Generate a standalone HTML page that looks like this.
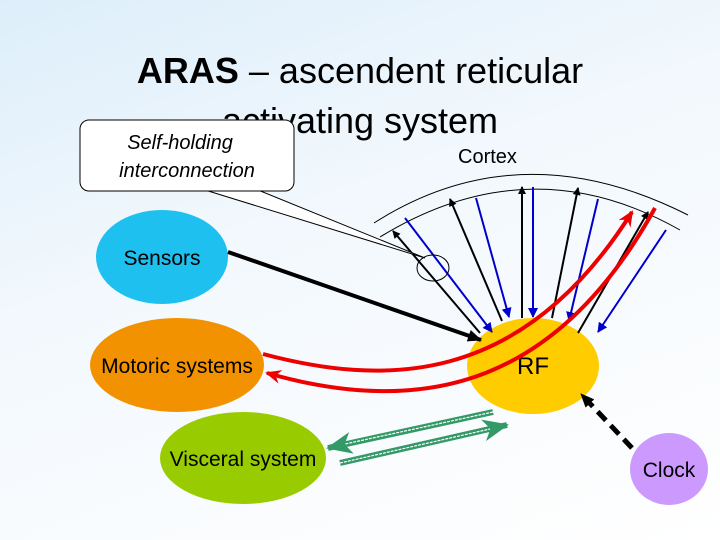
<!DOCTYPE html>
<html><head><meta charset="utf-8"><style>
html,body{margin:0;padding:0;}
body{width:720px;height:540px;overflow:hidden;background:linear-gradient(160deg,#ddeefa 0%,#f2f8fd 40%,#ffffff 100%);}
svg{display:block;font-family:"Liberation Sans",Arial,sans-serif;}
</style></head><body>
<svg width="720" height="540" viewBox="0 0 720 540">
<defs>
<marker id="ab" markerWidth="8" markerHeight="8" refX="7" refY="4" orient="auto" markerUnits="userSpaceOnUse"><path d="M0,0 L8,4 L0,8 z" fill="#000"/></marker>
<marker id="ab2" markerWidth="14" markerHeight="12" refX="13" refY="6" orient="auto" markerUnits="userSpaceOnUse"><path d="M0,0 L14,6 L0,12 z" fill="#000"/></marker>
<marker id="au" markerWidth="10" markerHeight="10" refX="9" refY="5" orient="auto" markerUnits="userSpaceOnUse"><path d="M0,0 L10,5 L0,10 z" fill="#0000cc"/></marker>
<marker id="ar" markerWidth="16" markerHeight="14" refX="14" refY="7" orient="auto" markerUnits="userSpaceOnUse"><path d="M0,0 L16,7 L0,14 L5,7 z" fill="#e00"/></marker>
<marker id="ag" markerWidth="26" markerHeight="22" refX="24" refY="11" orient="auto" markerUnits="userSpaceOnUse"><path d="M0,0 L26,11 L0,22 L7,11 z" fill="#339966"/></marker>
</defs>
<text x="360" y="83" font-size="36" text-anchor="middle" fill="#000"><tspan font-weight="bold">ARAS</tspan> – ascendent reticular</text>
<text x="360" y="133" font-size="36" text-anchor="middle" fill="#000">activating system</text>
<text x="458" y="163" font-size="20" fill="#000">Cortex</text>
<!-- arcs -->
<path d="M374,223 Q520,130 688,215" fill="none" stroke="#000" stroke-width="1"/>
<path d="M380,237 Q530,145 680,230" fill="none" stroke="#000" stroke-width="1"/>
<!-- ellipses -->
<ellipse cx="162" cy="257" rx="66" ry="47" fill="#1ec0f0"/>
<ellipse cx="177" cy="365" rx="87" ry="47" fill="#f39200"/>
<ellipse cx="243" cy="458" rx="83" ry="46" fill="#99cc00"/>
<ellipse cx="533" cy="366" rx="66" ry="48" fill="#ffcc00"/>
<ellipse cx="669" cy="469" rx="39" ry="36" fill="#cc99ff"/>
<text x="162" y="265" font-size="21" text-anchor="middle">Sensors</text>
<text x="177" y="373" font-size="21" text-anchor="middle">Motoric systems</text>
<text x="243" y="466" font-size="21" text-anchor="middle">Visceral system</text>
<text x="533" y="374" font-size="24" text-anchor="middle">RF</text>
<text x="669" y="477" font-size="21" text-anchor="middle">Clock</text>
<!-- radial arrows -->
<g stroke-width="2" fill="none">
<line x1="480" y1="333" x2="393" y2="231" stroke="#000" marker-end="url(#ab)"/>
<line x1="405" y1="218" x2="492" y2="332" stroke="#0000cc" marker-end="url(#au)"/>
<line x1="502" y1="321" x2="450" y2="199" stroke="#000" marker-end="url(#ab)"/>
<line x1="476" y1="198" x2="509" y2="317" stroke="#0000cc" marker-end="url(#au)"/>
<line x1="522" y1="318" x2="522" y2="187" stroke="#000" marker-end="url(#ab)"/>
<line x1="533" y1="187" x2="533" y2="317" stroke="#0000cc" marker-end="url(#au)"/>
<line x1="552" y1="318" x2="578" y2="188" stroke="#000" marker-end="url(#ab)"/>
<line x1="598" y1="199" x2="569" y2="321" stroke="#0000cc" marker-end="url(#au)"/>
<line x1="578" y1="333" x2="648" y2="212" stroke="#000" marker-end="url(#ab)"/>
<line x1="666" y1="230" x2="598" y2="332" stroke="#0000cc" marker-end="url(#au)"/>
</g>
<line x1="228" y1="252" x2="481" y2="340" stroke="#000" stroke-width="4" marker-end="url(#ab2)"/>
<!-- red -->
<path d="M263,354 C380,385 520,390 632,212" fill="none" stroke="#e00" stroke-width="4" marker-end="url(#ar)"/>
<path d="M655,208 C560,380 430,420 267,373" fill="none" stroke="#e00" stroke-width="4" marker-end="url(#ar)"/>
<!-- green -->
<g>
<line x1="493" y1="412" x2="328" y2="448" stroke="#339966" stroke-width="6" marker-end="url(#ag)"/>
<line x1="493" y1="412" x2="345" y2="444" stroke="#fff" stroke-width="1.2" stroke-dasharray="3,1"/>
<line x1="340" y1="463" x2="507" y2="425" stroke="#339966" stroke-width="6" marker-end="url(#ag)"/>
<line x1="340" y1="463" x2="490" y2="429" stroke="#fff" stroke-width="1.2" stroke-dasharray="3,1"/>
</g>
<!-- dashed -->
<line x1="632" y1="448" x2="581" y2="394" stroke="#000" stroke-width="5" stroke-dasharray="12,7" marker-end="url(#ab2)"/>
<!-- small circle -->
<ellipse cx="433" cy="268" rx="16" ry="13" fill="none" stroke="#000" stroke-width="1"/>
<!-- callout -->
<path d="M205,190 L425,258 L258,190 z" fill="#fff" stroke="#000" stroke-width="1"/>
<rect x="80" y="120" width="214" height="71" rx="9" fill="#fff" stroke="#000" stroke-width="1"/>
<rect x="206" y="186" width="51" height="4" fill="#fff"/>
<text x="180" y="149" font-size="20" font-style="italic" text-anchor="middle">Self-holding</text>
<text x="187" y="177" font-size="20" font-style="italic" text-anchor="middle">interconnection</text>
</svg>
</body></html>
